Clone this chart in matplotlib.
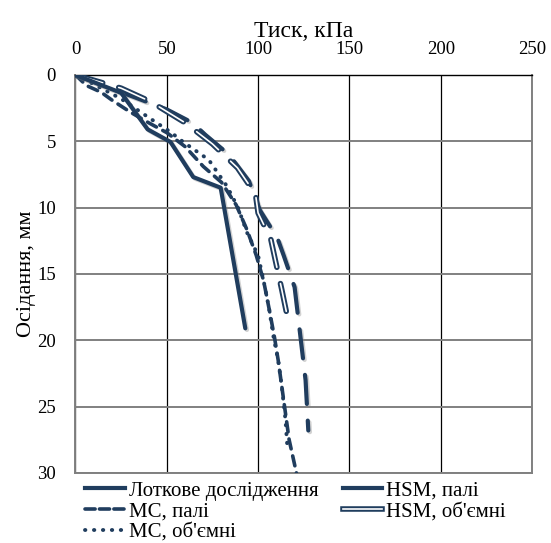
import matplotlib
matplotlib.use("Agg")
import matplotlib.pyplot as plt
from matplotlib.lines import Line2D
import matplotlib.patheffects as pe

plt.rcParams['font.family'] = ['Liberation Serif', 'DejaVu Serif']

# Data (pressure kPa, settlement mm)
lot_x = [0, 25, 39.5, 52, 64.5, 79.5, 93]
lot_y = [0, 1.35, 4.1, 5.05, 7.7, 8.5, 19.1]

mcp_x = [0, 6, 14, 20, 30, 40, 50, 60, 70, 80, 88, 94, 99, 103, 106, 109, 111, 113, 115, 117, 121]
mcp_y = [0, 0.8, 1.3, 1.9, 2.8, 3.6, 4.35, 5.4, 6.9, 8.1, 9.8, 11.7, 13.6, 15.5, 17.6, 19.8, 21.5, 23.5, 25.5, 27.5, 30]

mco_x = [0, 10, 25, 40, 52, 59, 73, 83, 89, 94, 100, 103, 106, 108.5, 111, 113, 115, 116]
mco_y = [0, 0.7, 1.8, 3.2, 4.3, 5.05, 6.4, 8.4, 10.0, 11.9, 13.6, 15.5, 17.6, 19.8, 21.5, 23.5, 26, 28]

hsmp_x = [0, 25, 50, 64, 71, 84, 95, 101, 110.6, 114, 120, 123, 126, 127.5]
hsmp_y = [0, 1.3, 2.6, 3.6, 4.5, 6.0, 8.0, 10.2, 12.3, 13.6, 16.0, 19.5, 23.0, 26.8]

hsmo_x = [0, 25, 41, 60, 75, 88.7, 98.6, 100, 107, 109.5, 113, 116]
hsmo_y = [0, 1.0, 2.0, 3.6, 5.2, 7.0, 9.0, 10.4, 12.4, 14.0, 16.2, 18.2]

labels = ["Лоткове дослідження", "МС, палі", "МС, об'ємні", "HSM, палі", "HSM, об'ємні"]
x_ticks = [0, 50, 100, 150, 200, 250]
y_ticks = [0, 5, 10, 15, 20, 25, 30]

C = '#203d5e'

fig = plt.figure(figsize=(5.51, 5.43), dpi=100)
ax = fig.add_axes([0.137, 0.129, 0.8285, 0.733])

shadow = [pe.SimpleLineShadow(offset=(1.2, -1.2), shadow_color='gray', alpha=0.35), pe.Normal()]

ax.plot(hsmp_x, hsmp_y, color=C, lw=3.0, linestyle=(0, (7, 4)),
        dash_capstyle='round', solid_capstyle='round', path_effects=shadow, zorder=3)
ax.plot(hsmo_x, hsmo_y, color='white', lw=1.2, linestyle=(0, (17, 10)),
        dash_capstyle='round', zorder=4,
        path_effects=[pe.Stroke(linewidth=4.0, foreground=C), pe.Normal()])
ax.plot(mcp_x, mcp_y, color=C, lw=2.6, linestyle=(0, (2.8, 2.0)),
        dash_capstyle='round', zorder=3)
ax.plot(mco_x, mco_y, color=C, lw=2.8, linestyle=(0, (0.1, 2.2)),
        dash_capstyle='round', zorder=3)
ax.plot(lot_x, lot_y, color=C, lw=3.0, solid_capstyle='round', solid_joinstyle='round',
        path_effects=shadow, zorder=5)

ax.set_xlim(0, 250)
ax.set_ylim(30, 0)
ax.set_xticks(x_ticks)
ax.set_yticks(y_ticks)
ax.xaxis.tick_top()
ax.xaxis.set_label_position('top')
ax.tick_params(length=0, labelsize=13.5)
ax.tick_params(axis='x', pad=12)
ax.tick_params(axis='y', pad=14)
ax.set_xlabel("Тиск, кПа", fontsize=17, labelpad=3)
ax.set_ylabel("Осідання, мм", fontsize=16, labelpad=1)

ax.xaxis.grid(True, color='black', lw=0.9)
ax.yaxis.grid(True, color='#808080', lw=1.4)
ax.set_axisbelow(True)
for s in ['left', 'bottom', 'right']:
    ax.spines[s].set_color('#808080')
    ax.spines[s].set_linewidth(1.4)
ax.spines['top'].set_color('black')
ax.spines['top'].set_linewidth(1.0)

handles = [
    Line2D([], [], color=C, lw=3.0),
    Line2D([], [], color=C, lw=2.6, linestyle=(0, (2.8, 1.2)), dash_capstyle='round'),
    Line2D([], [], color=C, lw=2.8, linestyle=(0, (0.1, 2.2)), dash_capstyle='round'),
    Line2D([], [], color=C, lw=3.0),
    Line2D([], [], color='white', lw=1.2,
           path_effects=[pe.Stroke(linewidth=4.0, foreground=C), pe.Normal()]),
]
fig.legend(handles, labels, ncol=2, loc='upper left', bbox_to_anchor=(0.155, 0.114),
           frameon=False, fontsize=15, handlelength=1.9, handletextpad=0.2,
           columnspacing=1.15, labelspacing=0.05, borderaxespad=0, borderpad=0)

fig.savefig("out.png", dpi=100)
